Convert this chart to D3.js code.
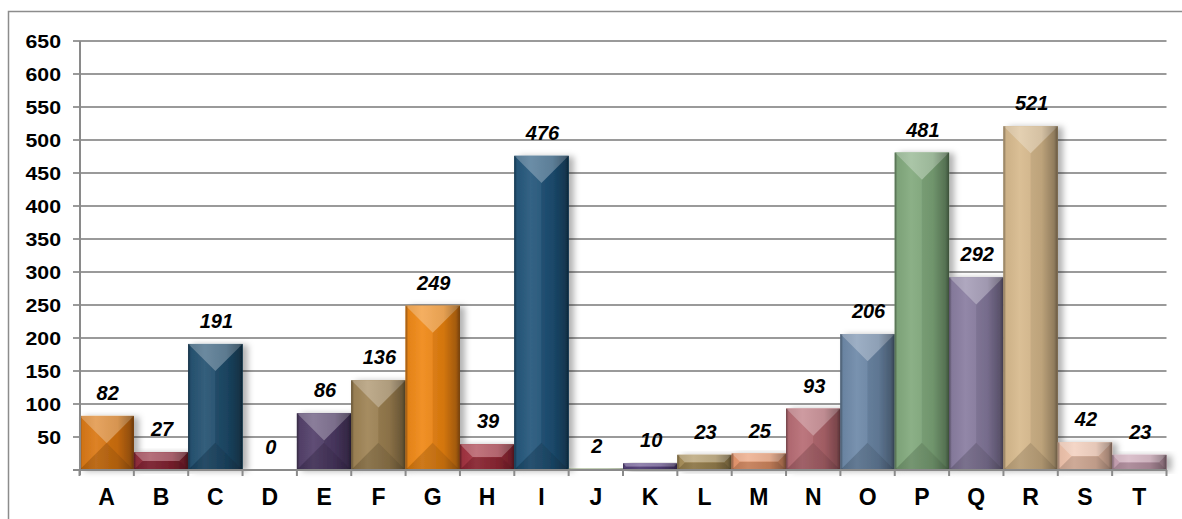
<!DOCTYPE html>
<html>
<head>
<meta charset="utf-8">
<script src="https://cdn.jsdelivr.net/npm/d3@7"></script>
<style>
  html, body { margin: 0; padding: 0; background: #fff; }
  svg { display: block; }
  text { font-family: "Liberation Sans", Arial, sans-serif; font-weight: bold; fill: #000; }
</style>
</head>
<body>
<svg id="chart" width="1182" height="519"></svg>
<script>
const categories = ["A","B","C","D","E","F","G","H","I","J","K","L","M","N","O","P","Q","R","S","T"];
const values = [82,27,191,0,86,136,249,39,476,2,10,23,25,93,206,481,292,521,42,23];
const colors = ["#D9740E","#8E2535","#1E4D6D","#4A6FA0","#4E3A66","#9C8050","#EF850F","#A02C3A","#1E5278","#7A9A5A",
                "#5B4585","#A68C55","#E8956A","#B56870","#6A86A6","#7FA87A","#867A9E","#D6B88A","#EFC2AA","#C8A0B2"];
const yTicks = [50,100,150,200,250,300,350,400,450,500,550,600,650];

const svg = d3.select("#chart");
const W = 1182, H = 519;

// outer frame
svg.append("rect").attr("x", 8.5).attr("y", 11.5).attr("width", W).attr("height", H)
  .attr("fill", "#fff").attr("stroke", "#8c8c8c").attr("stroke-width", 1.5);

const x = d3.scaleBand().domain(categories).range([79.5, 1166.5]).padding(0);
const y = d3.scaleLinear().domain([0, 650]).range([470, 41]);

const defs = svg.append("defs");
const f = defs.append("filter").attr("id", "shadow").attr("x", "-20%").attr("y", "-20%").attr("width", "160%").attr("height", "140%");
f.append("feDropShadow").attr("dx", 5).attr("dy", 1).attr("stdDeviation", 3)
  .attr("flood-color", "#000").attr("flood-opacity", 0.3);

// horizontal shading gradient overlay
const sg = defs.append("linearGradient").attr("id", "side").attr("x1", 0).attr("x2", 1).attr("y1", 0).attr("y2", 0);
[[0, "#000", 0.4],[0.05, "#000", 0.05],[0.3, "#fff", 0.06],[0.7, "#000", 0.06],[0.93, "#000", 0.28],[1, "#000", 0.5]]
  .forEach(([o, c, a]) => sg.append("stop").attr("offset", o).attr("stop-color", c).attr("stop-opacity", a));

// gridlines
const grid = svg.append("g");
grid.selectAll("line").data(yTicks).join("line")
  .attr("x1", 73).attr("x2", x.range()[1])
  .attr("y1", d => y(d)).attr("y2", d => y(d))
  .attr("stroke", "#9a9a9a").attr("stroke-width", 2);

// bars
const bars = svg.append("g");
categories.forEach((c, i) => {
  const v = values[i];
  if (v <= 0) return;
  const x0 = x(c), x1 = x(c) + x.bandwidth();
  const y0 = y(v), y1 = y(0);
  const w = x1 - x0, h = y1 - y0;
  const d = Math.min(w, h) / 2;
  const base = d3.color(colors[i]);
  const g = bars.append("g").attr("filter", "url(#shadow)");
  const ix0 = x0 + d, ix1 = x1 - d, iy0 = y0 + d, iy1 = y1 - d;
  const pts = a => a.map(p => p.join(",")).join(" ");
  g.append("rect").attr("x", x0).attr("y", y0).attr("width", w).attr("height", h).attr("fill", base.formatHex());
  // left face
  g.append("polygon").attr("points", pts([[x0,y0],[ix0,iy0],[ix0,iy1],[x0,y1]]))
    .attr("fill", d3.interpolateRgb(base, "#fff")(0.04));
  // right face
  g.append("polygon").attr("points", pts([[x1,y0],[ix1,iy0],[ix1,iy1],[x1,y1]]))
    .attr("fill", d3.interpolateRgb(base, "#000")(0.06));
  // center
  g.append("rect").attr("x", ix0).attr("y", iy0).attr("width", Math.max(0, ix1 - ix0)).attr("height", Math.max(0, iy1 - iy0))
    .attr("fill", base.formatHex());
  // top face
  g.append("polygon").attr("points", pts([[x0,y0],[x1,y0],[ix1,iy0],[ix0,iy0]]))
    .attr("fill", d3.interpolateRgb(base, "#fff")(0.3));
  // bottom face
  g.append("polygon").attr("points", pts([[x0,y1],[x1,y1],[ix1,iy1],[ix0,iy1]]))
    .attr("fill", d3.interpolateRgb(base, "#000")(0.15));
  // shading overlay
  g.append("rect").attr("x", x0).attr("y", y0).attr("width", w).attr("height", h).attr("fill", "url(#side)");
});

// axes
const axisColor = "#8a8a8a";
svg.append("line").attr("x1", 80).attr("x2", 80).attr("y1", y(650)).attr("y2", 475)
  .attr("stroke", axisColor).attr("stroke-width", 2);
svg.append("line").attr("x1", 73).attr("x2", x.range()[1]).attr("y1", y(0)).attr("y2", y(0))
  .attr("stroke", axisColor).attr("stroke-width", 2);
const bounds = categories.map(c => x(c)).concat([x.range()[1]]);
svg.append("g").selectAll("line").data(bounds).join("line")
  .attr("x1", d => d).attr("x2", d => d).attr("y1", y(0)).attr("y2", 476)
  .attr("stroke", axisColor).attr("stroke-width", 2);

// y tick labels
svg.append("g").selectAll("text").data(yTicks).join("text")
  .attr("transform", d => `translate(61,${y(d) + 7}) scale(1.12,1)`)
  .attr("text-anchor", "end").attr("font-size", 19)
  .text(d => d);

// category labels
svg.append("g").selectAll("text").data(categories).join("text")
  .attr("x", d => x(d) + x.bandwidth() / 2).attr("y", 505)
  .attr("text-anchor", "middle").attr("font-size", 23)
  .text(d => d);

// value labels
svg.append("g").selectAll("text").data(values).join("text")
  .attr("x", (d, i) => x(categories[i]) + x.bandwidth() / 2 + 1)
  .attr("y", d => y(d) - 16)
  .attr("text-anchor", "middle").attr("font-size", 20).attr("font-style", "italic")
  .text(d => d);
</script>
</body>
</html>
